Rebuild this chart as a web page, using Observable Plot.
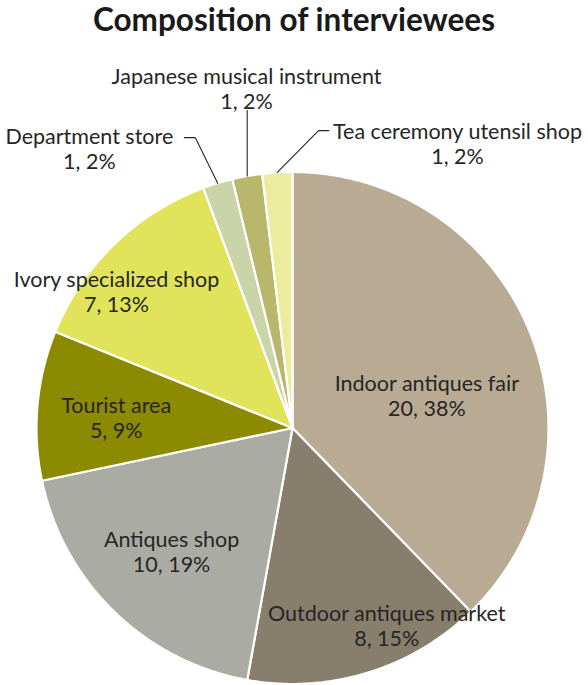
<!DOCTYPE html>
<html>
<head>
<meta charset="utf-8">
<script src="https://cdn.jsdelivr.net/npm/d3@7"></script>
<script src="https://cdn.jsdelivr.net/npm/@observablehq/plot@0.6"></script>
<style>
  html, body { margin: 0; padding: 0; background: #fff; }
  #title { height: 40px; line-height: 38px; text-align: center; font-family: Lato, "Open Sans", sans-serif; font-weight: bold; font-size: 31.5px; color: #1a1a1a; width: 588px; }
</style>
</head>
<body>
<div id="title">Composition of interviewees</div>
<div id="chart"></div>
<script>
// ---- data ----
const categories = ["Indoor antiques fair", "Outdoor antiques market", "Antiques shop", "Tourist area", "Ivory specialized shop", "Department store", "Japanese musical instrument", "Tea ceremony utensil shop"];
const counts = [20, 8, 10, 5, 7, 1, 1, 1];
const percents = [38, 15, 19, 9, 13, 2, 2, 2];
const colors = ["#b8aa93", "#877e6c", "#aaaca3", "#8c8a00", "#e1e35b", "#c9d4a9", "#b8b76c", "#ebec9e"];

// ---- label layout (polar: angle deg clockwise from top, radius as fraction of pie radius) ----
const labelAngle = [76.4, 154.5, 224.4, 273.4, 307.8, 324.0, 352.3, 30.1];
const labelRadius = [0.54, 0.855, 0.675, 0.69, 0.87, 1.35, 1.34, 1.285];
// callouts for small slices: [elbow angle, elbow radius, tick dx in radius units]
const callouts = {
  5: [341.5, 1.196, -0.043],
  6: [null, 1.26, 0],
  7: [5.0, 1.166, 0.04]
};

const total = d3.sum(counts);
const toXY = (deg, r) => { const a = deg * Math.PI / 180; return [r * Math.sin(a), r * Math.cos(a)]; };

// slice polygons
const slicePts = [];
let cum = 0;
const mids = [];
counts.forEach((c, i) => {
  const a0 = cum / total * 360, a1 = (cum + c) / total * 360;
  cum += c;
  mids.push((a0 + a1) / 2);
  slicePts.push({name: categories[i], x: 0, y: 0});
  const n = Math.max(4, Math.ceil((a1 - a0) / 0.5));
  for (let k = 0; k <= n; k++) {
    const [x, y] = toXY(a0 + (a1 - a0) * k / n, 1);
    slicePts.push({name: categories[i], x, y});
  }
  slicePts.push({name: categories[i], x: 0, y: 0});
});

// labels
const labels = categories.map((name, i) => {
  const [x, y] = toXY(labelAngle[i], labelRadius[i]);
  return {x, y, text: `${name}\n${counts[i]}, ${percents[i]}%`};
});

// leader lines
const leaders = [];
Object.entries(callouts).forEach(([i, [ea, er, tdx]]) => {
  i = +i;
  const [sx, sy] = toXY(mids[i], 1.0);
  leaders.push({id: i, x: sx, y: sy});
  if (ea === null) {
    leaders.push({id: i, x: sx, y: er * Math.cos(mids[i] * Math.PI / 180)});
  } else {
    const [ex, ey] = toXY(ea, er);
    leaders.push({id: i, x: ex, y: ey});
    leaders.push({id: i, x: ex + tdx, y: ey});
  }
});

const cx = 292, cy = 387.5, R = 256;
const plot = Plot.plot({
  width: 588,
  height: 645,
  margin: 0,
  x: {domain: [-1, 1], range: [cx - R, cx + R], axis: null},
  y: {domain: [-1, 1], range: [cy + R, cy - R], axis: null},
  color: {domain: categories, range: colors},
  style: {fontFamily: "Lato, 'Open Sans', sans-serif", background: "#fff"},
  marks: [
    Plot.line(slicePts, {x: "x", y: "y", z: "name", fill: "name", stroke: "#fff", strokeWidth: 2.2, strokeLinejoin: "round", curve: "linear"}),
    Plot.line(leaders, {x: "x", y: "y", z: "id", stroke: "#262626", strokeWidth: 1.1}),
    Plot.text(labels, {x: "x", y: "y", text: "text", fontSize: 21.5, lineHeight: 1.16, fill: "#262626", textAnchor: "middle"})
  ]
});
document.getElementById("chart").appendChild(plot);
</script>
</body>
</html>
